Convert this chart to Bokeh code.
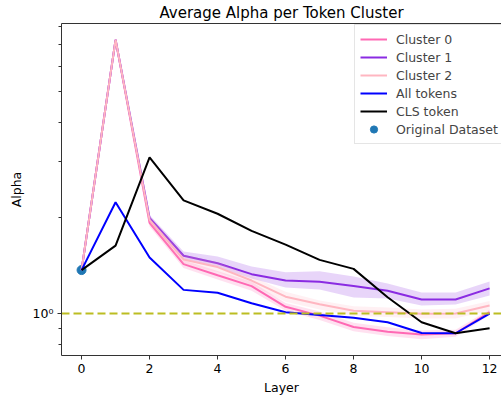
from bokeh.plotting import figure
from bokeh.models import Range1d, FixedTicker, LinearAxis, Legend, LegendItem
from bokeh.embed import file_html
from bokeh.resources import INLINE

layers = list(range(13))
x_ticks = [0, 2, 4, 6, 8, 10, 12]

cluster0 = [1.37, 7.26, 1.93, 1.43, 1.32, 1.22, 1.05, 0.985, 0.907, 0.877, 0.859, 0.867, 1.01]
cluster0_lo = [1.37, 7.26, 1.88, 1.39, 1.28, 1.18, 1.02, 0.955, 0.88, 0.85, 0.83, 0.845, 0.99]
cluster0_hi = [1.37, 7.26, 1.98, 1.47, 1.36, 1.26, 1.08, 1.015, 0.935, 0.905, 0.885, 0.89, 1.03]

cluster1 = [1.37, 7.26, 2.0, 1.52, 1.44, 1.33, 1.27, 1.26, 1.22, 1.18, 1.107, 1.107, 1.20]
cluster1_lo = [1.37, 7.26, 1.96, 1.48, 1.395, 1.29, 1.207, 1.19, 1.123, 1.115, 1.06, 1.067, 1.139]
cluster1_hi = [1.37, 7.26, 2.04, 1.567, 1.511, 1.406, 1.348, 1.359, 1.307, 1.243, 1.164, 1.164, 1.261]

cluster2 = [1.37, 7.26, 1.97, 1.48, 1.40, 1.27, 1.13, 1.07, 1.02, 1.01, 0.998, 1.0, 1.06]
cluster2_lo = [1.37, 7.26, 1.92, 1.43, 1.35, 1.23, 1.09, 1.03, 0.985, 0.975, 0.965, 0.965, 1.025]
cluster2_hi = [1.37, 7.26, 2.02, 1.53, 1.45, 1.31, 1.17, 1.10, 1.055, 1.045, 1.03, 1.035, 1.095]

all_tokens = [1.37, 2.24, 1.50, 1.187, 1.162, 1.077, 1.009, 0.99, 0.97, 0.939, 0.869, 0.867, 1.0]
cls_token = [1.37, 1.636, 3.10, 2.27, 2.06, 1.82, 1.648, 1.475, 1.382, 1.125, 0.939, 0.867, 0.899]

original_x = [0]
original_y = [1.37]
ref_line = 1.0

FONT = "DejaVu Sans"

p = figure(width=501, height=398, output_backend="svg", toolbar_location=None,
           y_axis_type="log",
           x_range=Range1d(-0.59, 12.35), y_range=Range1d(0.738, 8.17),
           min_border_left=61, min_border_right=0, min_border_top=23, min_border_bottom=43)
p.title.text = "Average Alpha per Token Cluster"
p.title.align = "center"
p.title.text_font = FONT
p.title.text_font_size = "15px"
p.title.text_font_style = "normal"
p.title.text_color = "black"
p.title.standoff = 3
p.grid.visible = False
p.outline_line_color = None
p.background_fill_color = "white"
p.border_fill_color = "white"

colors = {"c0": "#ff69b4", "c1": "#8a2be2", "c2": "#ffb6c1"}

r5 = p.scatter(original_x, original_y, size=9, fill_color="#1f77b4", line_color="#1f77b4")
b0 = p.varea(x=layers, y1=cluster0_lo, y2=cluster0_hi, fill_color=colors["c0"], fill_alpha=0.2)
r0 = p.line(layers, cluster0, line_color=colors["c0"], line_width=2)
b1 = p.varea(x=layers, y1=cluster1_lo, y2=cluster1_hi, fill_color=colors["c1"], fill_alpha=0.2)
r1 = p.line(layers, cluster1, line_color=colors["c1"], line_width=2)
b2 = p.varea(x=layers, y1=cluster2_lo, y2=cluster2_hi, fill_color=colors["c2"], fill_alpha=0.2)
r2 = p.line(layers, cluster2, line_color=colors["c2"], line_width=2)
r3 = p.line(layers, all_tokens, line_color="#0000ff", line_width=2)
r4 = p.line(layers, cls_token, line_color="#000000", line_width=2)
p.line([-0.59, 12.35], [ref_line, ref_line], line_color="#bcbd22", line_width=2, line_dash="8 4")

for ax in (p.xaxis[0], p.yaxis[0]):
    ax.axis_line_color = "#333333"
    ax.axis_line_width = 1
    ax.major_tick_line_color = "#333333"
    ax.minor_tick_line_color = "#333333"
    ax.major_tick_out = 4
    ax.major_tick_in = 0
    ax.minor_tick_out = 3
    ax.minor_tick_in = 0
    ax.major_label_text_font = FONT
    ax.major_label_text_font_size = "12.5px"
    ax.major_label_text_color = "black"
    ax.major_label_standoff = 4
    ax.axis_label_text_font = FONT
    ax.axis_label_text_font_size = "12.5px"
    ax.axis_label_text_font_style = "normal"
    ax.axis_label_text_color = "black"

p.xaxis.ticker = FixedTicker(ticks=x_ticks, minor_ticks=[])
p.xaxis.axis_label = "Layer"
p.xaxis.axis_label_standoff = 4
p.yaxis.ticker = FixedTicker(ticks=[1.0], minor_ticks=[0.8, 0.9, 2, 3, 4, 5, 6, 7, 8])
p.yaxis.major_label_overrides = {1: "10⁰"}
p.yaxis.axis_label = "Alpha"
p.yaxis.axis_label_standoff = 6

top = LinearAxis(ticker=FixedTicker(ticks=[]), axis_line_color="#333333", axis_line_width=1,
                 major_tick_line_color=None, minor_tick_line_color=None,
                 major_label_text_font_size="0px")
p.add_layout(top, "above")

legend = Legend(items=[
    LegendItem(label="Cluster 0", renderers=[r0]),
    LegendItem(label="Cluster 1", renderers=[r1]),
    LegendItem(label="Cluster 2", renderers=[r2]),
    LegendItem(label="All tokens", renderers=[r3]),
    LegendItem(label="CLS token", renderers=[r4]),
    LegendItem(label="Original Dataset", renderers=[r5]),
], location=(293, 211))
legend.label_text_font = FONT
legend.label_text_font_size = "12.5px"
legend.label_height = 18
legend.glyph_height = 18
legend.glyph_width = 27
legend.label_standoff = 9
legend.spacing = 0
legend.padding = 5
legend.margin = 0
legend.border_line_color = "#cccccc"
legend.border_line_width = 1
legend.background_fill_alpha = 0.8
p.add_layout(legend, "center")

open("out.html", "w").write(file_html(p, INLINE))
